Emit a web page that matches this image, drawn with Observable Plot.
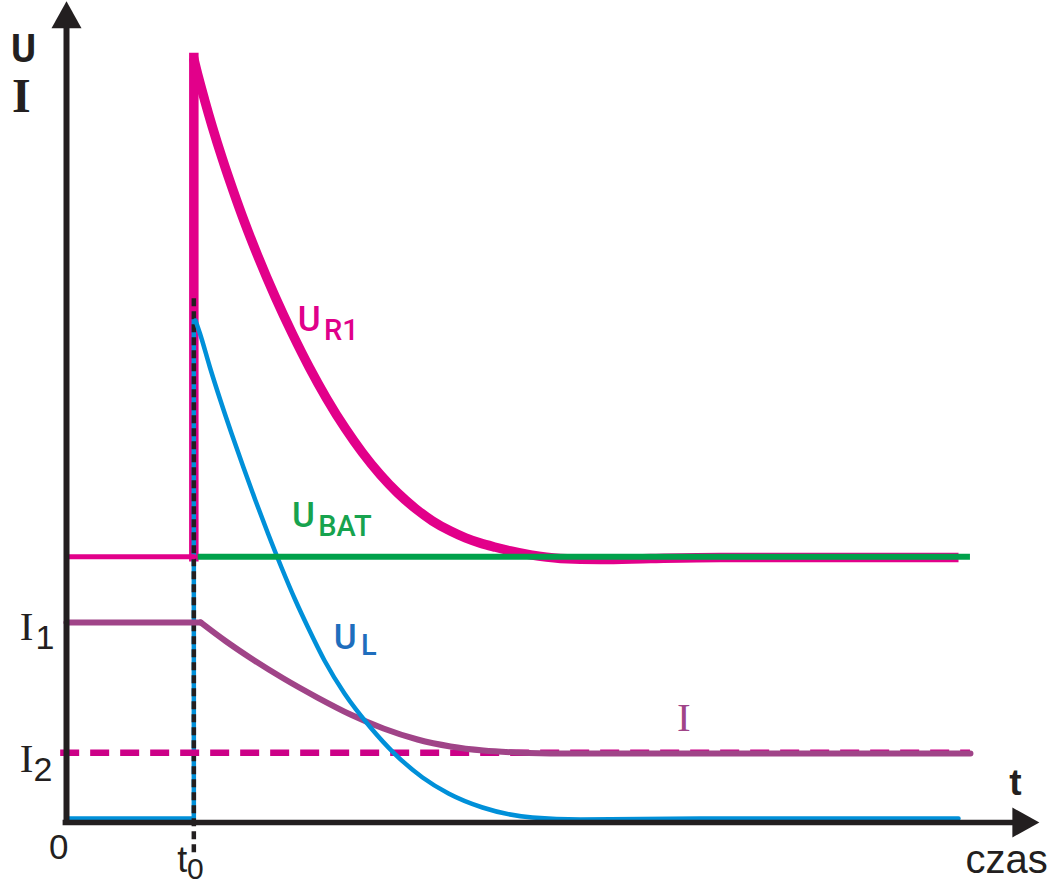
<!DOCTYPE html>
<html>
<head>
<meta charset="utf-8">
<script src="https://cdn.jsdelivr.net/npm/d3@7"></script>
<script src="https://cdn.jsdelivr.net/npm/@observablehq/plot@0.6"></script>
<style>
  html, body { margin: 0; padding: 0; background: #ffffff; }
  #chart svg { display: block; }
</style>
</head>
<body>
<div id="chart"></div>
<script>
// ---- data (chart units: time 0..100, value 0..100) ----
const t0 = 13.1;
const uBat = 32.4;
const i1 = 24.4;
const i2 = 8.5;
const ur1Peak = 93.3;
const ulPeak = 61.3;
const ulBase = 0.5;
const lineEnd = 93.0;

const ur1DecayT = [13.07, 13.58, 14.20, 15.02, 16.05, 17.18, 18.31, 19.65, 21.50, 23.25, 25.00, 26.75, 28.70, 30.45, 32.30, 34.05, 35.91, 37.65, 39.51, 41.05, 42.59, 44.14, 45.68, 47.74, 50.82, 54.94, 60.08, 67.28, 91.77];
const ur1DecayV = [93.29, 90.85, 88.15, 84.78, 80.88, 76.94, 73.23, 69.18, 64.02, 59.57, 55.46, 51.73, 48.02, 45.09, 42.39, 40.21, 38.28, 36.78, 35.54, 34.71, 34.07, 33.57, 33.12, 32.63, 32.20, 32.07, 32.20, 32.32, 32.32];

const ulDecayT = [13.27, 13.73, 14.76, 15.84, 16.98, 18.21, 19.44, 20.73, 22.12, 23.56, 24.85, 26.54, 28.60, 31.28, 33.74, 36.63, 39.30, 42.80, 47.94, 52.88, 65.23, 91.77];
const ulDecayV = [61.22, 59.63, 55.49, 51.46, 47.44, 43.29, 39.27, 35.24, 31.10, 27.07, 23.78, 19.76, 15.73, 11.59, 8.41, 5.49, 3.54, 1.83, 0.61, 0.37, 0.49, 0.49];

const iDecayT = [13.8, 16.36, 18.93, 22.33, 25.82, 29.22, 32.61, 36.11, 39.51, 42.90, 46.40, 50.82, 93.0];
const iDecayV = [24.4, 22.13, 20.06, 17.56, 15.24, 13.17, 11.46, 10.12, 9.27, 8.78, 8.54, 8.42, 8.42];

// ---- build tables ----
const zip = (ts, vs) => ts.map((t, k) => ({t, v: vs[k]}));
const ur1Decay = zip(ur1DecayT, ur1DecayV);
const ulDecay = zip(ulDecayT, ulDecayV);
const iDecay = zip(iDecayT, iDecayV);
const ur1Rise = [{t: t0, v: uBat}, {t: t0, v: ur1Peak}];
const ur1Pre = [{t: 0, v: uBat}, {t: t0, v: uBat}];
const ulPre = [{t: 0, v: ulBase}, {t: t0, v: ulBase}, {t: t0, v: ulPeak}];
const iPre = [{t: 0, v: i1}, {t: iDecayT[0], v: i1}];

const axisArrows = [
  {t: 0, v: 98.5, rot: 0},
  {t: 98.7, v: 0, rot: 90}
];

const ink = "#231f20";
const pink = "#e2008a";
const pinkDash = "#cc0087";
const blue = "#0090d9";
const green = "#00a14b";
const purple = "#a04488";

const arrowHead = {
  draw(ctx) {
    ctx.moveTo(0, -13.5);
    ctx.lineTo(15, 13.5);
    ctx.lineTo(-15, 13.5);
    ctx.closePath();
  }
};

const sans = "Liberation Sans, Arial, sans-serif";
const label = "Roboto, Liberation Sans, Arial, sans-serif";
const serif = "Liberation Serif, Times New Roman, serif";

// labels: main glyphs and subscripts
const labelsMain = [
  {t: 23.8, v: 59.9, s: "U", c: "#e0008a"},
  {t: 23.2, v: 36.0, s: "U", c: "#17a34e"},
  {t: 27.5, v: 21.2, s: "U", c: "#1e6ebd"}
];
const labelsSub = [
  {t: 26.5, v: 58.8, s: "R1", c: "#e0008a"},
  {t: 25.9, v: 35.0, s: "BAT", c: "#17a34e"},
  {t: 30.3, v: 20.4, s: "L", c: "#1e6ebd"}
];
const serifLabels = [
  {t: -4.8, v: 22.2, s: "I", c: ink},
  {t: -4.8, v: 6.1, s: "I", c: ink},
  {t: 62.8, v: 11.2, s: "I", c: purple}
];
const serifSubs = [
  {t: -3.2, v: 21.2, s: "1"},
  {t: -3.4, v: 5.1, s: "2"}
];

const chart = Plot.plot({
  width: 1056,
  height: 885,
  marginLeft: 66,
  marginRight: 18,
  marginTop: 2,
  marginBottom: 63,
  x: {domain: [0, 100], axis: null},
  y: {domain: [0, 100], axis: null},
  style: {background: "#ffffff", overflow: "visible"},
  marks: [
    // U_R1 thick curve
    Plot.line(ur1Rise, {x: "t", y: "v", stroke: pink, strokeWidth: 9.5, strokeLinecap: "square"}),
    Plot.line(ur1Decay, {x: "t", y: "v", stroke: pink, strokeWidth: 9.5, curve: "monotone-x", strokeLinecap: "butt"}),
    // U_L before and at t0
    Plot.line(ulPre, {x: "t", y: "v", stroke: blue, strokeWidth: 4.5, strokeLinejoin: "miter"}),
    // t0 dashed marker
    Plot.ruleX([t0], {y1: -3.7, y2: 64, stroke: ink, strokeWidth: 4.5, strokeDasharray: "8,5"}),
    // I2 dashed level
    Plot.ruleY([i2], {x1: -0.6, x2: lineEnd, stroke: pinkDash, strokeWidth: 6.5, strokeDasharray: "19,11"}),
    // current I
    Plot.line(iPre, {x: "t", y: "v", stroke: purple, strokeWidth: 6, strokeLinecap: "round"}),
    Plot.line(iDecay, {x: "t", y: "v", stroke: purple, strokeWidth: 6, curve: "monotone-x", strokeLinecap: "round"}),
    // U_L decay
    Plot.line(ulDecay, {x: "t", y: "v", stroke: blue, strokeWidth: 4.5, curve: "monotone-x", strokeLinecap: "round"}),
    // U_BAT
    Plot.ruleY([uBat], {x1: t0 + 0.45, x2: lineEnd, stroke: green, strokeWidth: 6}),
    // U_R1 before t0
    Plot.line(ur1Pre, {x: "t", y: "v", stroke: pink, strokeWidth: 5}),
    // axes
    Plot.ruleX([0], {y1: -0.3, y2: 97, stroke: ink, strokeWidth: 6}),
    Plot.ruleY([0], {x1: -0.35, x2: 97.5, stroke: ink, strokeWidth: 5.5}),
    Plot.dot(axisArrows, {x: "t", y: "v", symbol: arrowHead, rotate: "rot", fill: ink, stroke: "none"}),
    // axis labels
    Plot.text(["U"], {x: -5.7, y: 92.7, text: d => d, fontFamily: label, fontWeight: "bold", fontSize: 38, textAnchor: "start", lineAnchor: "bottom", fill: ink}),
    Plot.text(["I"], {x: -5.6, y: 86.6, text: d => d, fontFamily: serif, fontWeight: "bold", fontSize: 48, textAnchor: "start", lineAnchor: "bottom", fill: ink}),
    Plot.text(["0"], {x: -0.8, y: -4.4, text: d => d, fontFamily: sans, fontSize: 35, textAnchor: "middle", lineAnchor: "bottom", fill: ink}),
    Plot.text(["t"], {x: 11.4, y: -6.0, text: d => d, fontFamily: sans, fontSize: 36, textAnchor: "start", lineAnchor: "bottom", fill: ink}),
    Plot.text(["0"], {x: 12.4, y: -6.9, text: d => d, fontFamily: sans, fontSize: 30, textAnchor: "start", lineAnchor: "bottom", fill: ink}),
    Plot.text(["t"], {x: 97.0, y: 3.3, text: d => d, fontFamily: sans, fontWeight: "bold", fontSize: 37, textAnchor: "start", lineAnchor: "bottom", fill: ink}),
    Plot.text(["czas"], {x: 92.5, y: -6.1, text: d => d, fontFamily: sans, fontSize: 40, textAnchor: "start", lineAnchor: "bottom", fill: ink}),
    // series labels
    Plot.text(labelsMain, {x: "t", y: "v", text: "s", fill: "c", fontFamily: label, fontWeight: 500, fontSize: 35, textAnchor: "start", lineAnchor: "bottom"}),
    Plot.text(labelsSub, {x: "t", y: "v", text: "s", fill: "c", fontFamily: label, fontWeight: 500, fontSize: 29, textAnchor: "start", lineAnchor: "bottom"}),
    Plot.text(serifLabels, {x: "t", y: "v", text: "s", fill: "c", fontFamily: serif, fontSize: 41, textAnchor: "start", lineAnchor: "bottom"}),
    Plot.text(serifSubs, {x: "t", y: "v", text: "s", fill: ink, fontFamily: sans, fontSize: 34, textAnchor: "start", lineAnchor: "bottom"})
  ]
});

document.getElementById("chart").appendChild(chart);
</script>
</body>
</html>
